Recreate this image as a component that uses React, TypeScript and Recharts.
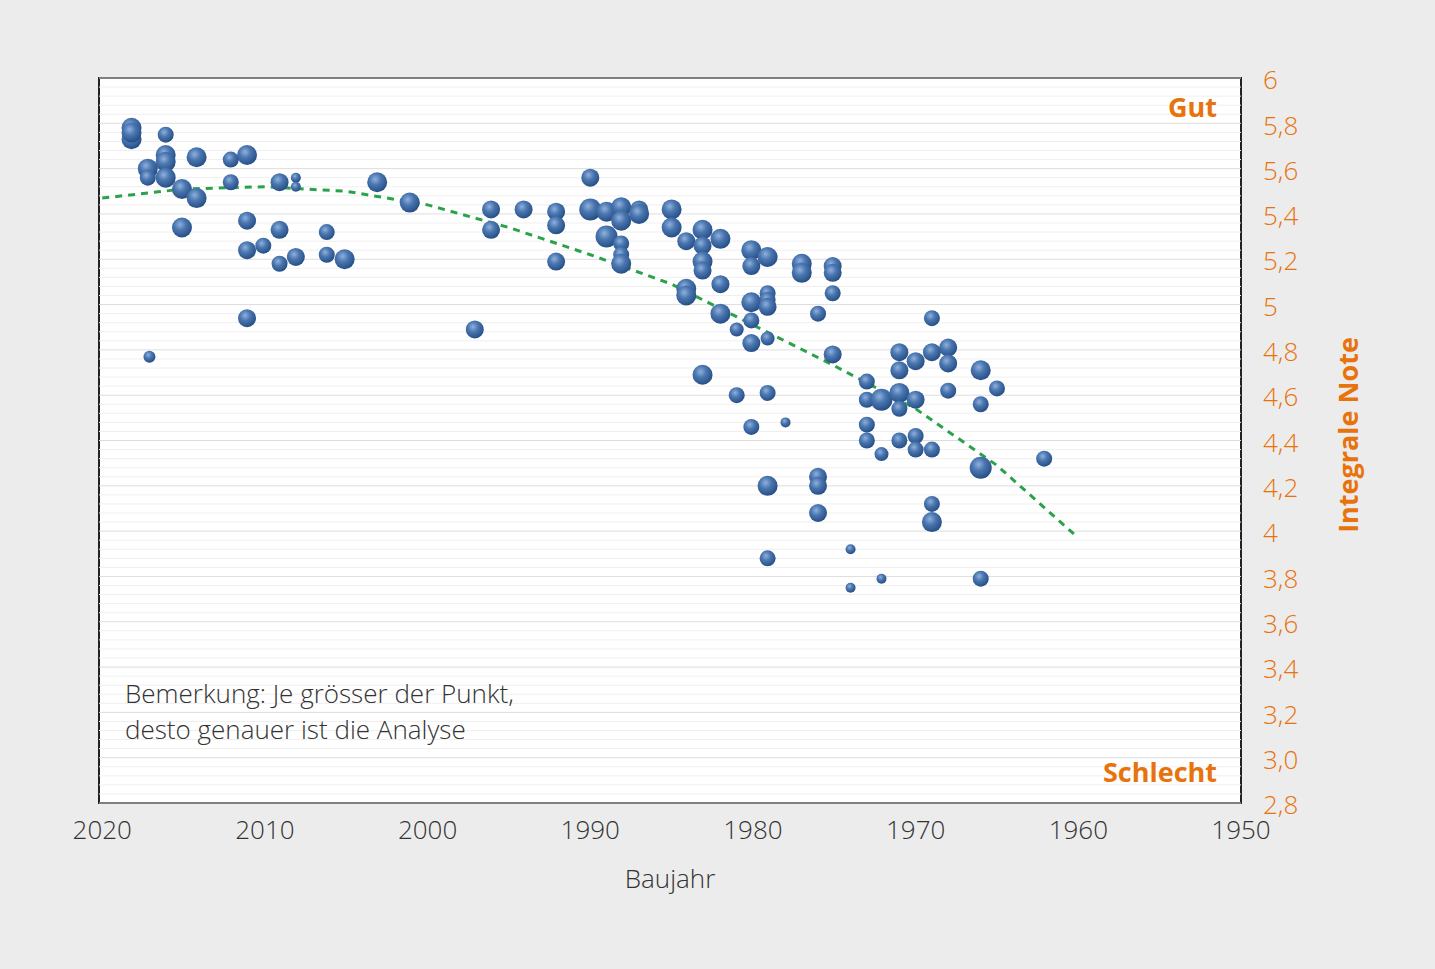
import React from "react";
import { ComposedChart, Scatter, XAxis, YAxis, ReferenceLine } from "recharts";

// building year, integral score, marker radius
const years = [
  2018.2, 2018.2, 2018.2, 2017.1, 2017.2, 2017.2, 2016.1, 2016.1, 2016.1, 2016.1, 2015.1, 2015.1,
  2014.2, 2014.2, 2012.1, 2012.1, 2011.1, 2011.1, 2011.1, 2011.1, 2010.1, 2009.1, 2009.1, 2009.1,
  2008.1, 2008.1, 2008.1, 2006.2, 2006.2, 2005.1, 2003.1, 2001.1, 1997.1, 1996.1, 1996.1, 1994.1,
  1992.1, 1992.1, 1992.1, 1990.0, 1990.0, 1989.0, 1989.0, 1988.1, 1988.1, 1988.1, 1988.1, 1988.1,
  1987.0, 1987.0, 1985.0, 1985.0, 1984.1, 1984.1, 1984.1, 1983.1, 1983.1, 1983.1, 1983.1, 1983.1,
  1982.0, 1982.0, 1982.0, 1981.0, 1981.0, 1980.1, 1980.1, 1980.1, 1980.1, 1980.1, 1980.1,
  1979.1, 1979.1, 1979.1, 1979.1, 1979.1, 1979.1, 1979.1, 1979.1, 1978.0, 1977.0, 1977.0,
  1976.0, 1976.0, 1976.0, 1976.0, 1975.1, 1975.1, 1975.1, 1975.1, 1974.0, 1974.0,
  1973.0, 1973.0, 1973.0, 1973.0, 1972.1, 1972.1, 1972.1, 1971.0, 1971.0, 1971.0, 1971.0, 1971.0,
  1970.0, 1970.0, 1970.0, 1970.0, 1969.0, 1969.0, 1969.0, 1969.0, 1969.0, 1968.0, 1968.0, 1968.0,
  1966.0, 1966.0, 1966.0, 1966.0, 1965.0, 1962.1,
];
const scores = [
  5.78, 5.73, 5.76, 4.77, 5.6, 5.56, 5.75, 5.66, 5.63, 5.56, 5.51, 5.34,
  5.65, 5.47, 5.64, 5.54, 5.66, 5.37, 5.24, 4.94, 5.26, 5.54, 5.33, 5.18,
  5.56, 5.52, 5.21, 5.32, 5.22, 5.2, 5.54, 5.45, 4.89, 5.42, 5.33, 5.42,
  5.41, 5.35, 5.19, 5.56, 5.42, 5.41, 5.3, 5.43, 5.37, 5.27, 5.22, 5.18,
  5.42, 5.4, 5.42, 5.34, 5.28, 5.07, 5.04, 5.33, 5.26, 5.19, 5.15, 4.69,
  5.29, 5.09, 4.96, 4.89, 4.6, 5.24, 5.17, 5.01, 4.93, 4.83, 4.46,
  5.21, 5.05, 5.02, 4.99, 4.85, 4.61, 4.2, 3.88, 4.48, 5.18, 5.14,
  4.96, 4.24, 4.2, 4.08, 5.17, 5.14, 5.05, 4.78, 3.92, 3.75,
  4.66, 4.58, 4.47, 4.4, 4.58, 4.34, 3.79, 4.79, 4.71, 4.61, 4.54, 4.4,
  4.75, 4.58, 4.42, 4.36, 4.94, 4.79, 4.36, 4.12, 4.04, 4.81, 4.74, 4.62,
  4.71, 4.56, 4.28, 3.79, 4.63, 4.32,
];
const radii = [
  10, 10, 10, 6, 10, 8, 8, 10, 10, 10, 10, 10,
  10, 10, 8, 8, 10, 9, 9, 9, 8, 9, 9, 8,
  5, 5, 9, 8, 8, 10, 10, 10, 9, 9, 9, 9,
  9, 9, 9, 9, 11, 10, 11, 10, 10, 8, 8, 10,
  9, 10, 10, 10, 9, 10, 10, 10, 9, 10, 9, 10,
  10, 9, 10, 7, 8, 10, 9, 10, 8, 9, 8,
  10, 8, 8, 9, 7, 8, 10, 8, 5, 10, 10,
  8, 9, 9, 9, 9, 9, 8, 9, 5, 5,
  8, 8, 8, 8, 11, 7, 5, 9, 9, 10, 8, 8,
  9, 9, 8, 8, 8, 9, 8, 8, 10, 9, 9, 8,
  10, 8, 11, 8, 8, 8,
];
const trendYears = [2020, 2015, 2010, 2005, 2000, 1995, 1990, 1985, 1980, 1975, 1970, 1965, 1960];
const trendScores = [5.47, 5.51, 5.52, 5.5, 5.44, 5.34, 5.22, 5.09, 4.91, 4.73, 4.54, 4.29, 3.97];
const xTicks = [2020, 2010, 2000, 1990, 1980, 1970, 1960, 1950];
const yTicks = [2.8, 3, 3.2, 3.4, 3.6, 3.8, 4, 4.2, 4.4, 4.6, 4.8, 5, 5.2, 5.4, 5.6, 5.8, 6];

const points = years.map((year, i) => ({ year, score: scores[i], r: radii[i] }));
const trend = trendYears.map((year, i) => ({ year, score: trendScores[i] }));
const gridLines = Array.from({ length: 81 }, (_, i) => +(2.8 + i * 0.04).toFixed(2));

const ORANGE = "#e8730c";
const FONT = "'Open Sans', sans-serif";

const fmtY = (v: number) => (v === 3 ? "3,0" : String(v).replace(".", ","));

const Ball = (props: any) => {
  const { cx, cy, payload } = props;
  if (cx == null || cy == null) return null;
  return <circle cx={cx} cy={cy} r={payload.r} fill="url(#ball)" />;
};

export default function App() {
  return (
    <div style={{ position: "absolute", left: 0, top: 0, width: 1435, height: 969, background: "#ececec", fontFamily: FONT }}>
      <ComposedChart width={1435} height={969} margin={{ top: 78, right: 94, bottom: 106, left: 99 }}>
        <defs>
          <radialGradient id="ball" cx="40%" cy="35%" r="65%">
            <stop offset="0%" stopColor="#8fb0dc" />
            <stop offset="45%" stopColor="#4a76b0" />
            <stop offset="100%" stopColor="#274f86" />
          </radialGradient>
        </defs>
        <rect x={99} y={78} width={1142} height={725} fill="#fff" />
        {gridLines.map((v) => (
          <ReferenceLine key={v} y={v} stroke={Math.abs((v * 5) % 1) < 0.01 || Math.abs((v * 5) % 1) > 0.99 ? "#dddddd" : "#efefef"} strokeWidth={1} />
        ))}
        <XAxis
          type="number"
          dataKey="year"
          domain={[1950, 2020.2]}
          reversed
          ticks={xTicks}
          tick={{ fill: "#333", fontSize: 26, fontWeight: 300, fontFamily: FONT }}
          tickLine={false}
          axisLine={false}
          tickMargin={12}
          height={60}
          allowDataOverflow
        />
        <YAxis
          type="number"
          dataKey="score"
          orientation="right"
          domain={[2.8, 6]}
          ticks={yTicks}
          tickFormatter={fmtY}
          tick={{ fill: ORANGE, fontSize: 26, fontWeight: 300, fontFamily: FONT, textAnchor: "start", dy: 2 }}
          tickLine={false}
          axisLine={false}
          tickMargin={16}
          width={100}
          allowDataOverflow
        />
        <Scatter
          data={trend}
          line={{ stroke: "#2aa24a", strokeWidth: 3, strokeDasharray: "7 6" }}
          lineType="joint"
          shape={() => null}
          isAnimationActive={false}
        />
        <Scatter data={points} shape={Ball} isAnimationActive={false} />
        <rect x={99} y={78} width={1142} height={725} fill="none" stroke="#222" strokeWidth={2} />
      </ComposedChart>
      <div style={{ position: "absolute", right: 218, top: 88, color: ORANGE, fontSize: 27, fontWeight: 700 }}>Gut</div>
      <div style={{ position: "absolute", right: 218, top: 753, color: ORANGE, fontSize: 27, fontWeight: 700 }}>Schlecht</div>
      <div style={{ position: "absolute", left: 125, top: 675, color: "#333", fontSize: 26, fontWeight: 300, lineHeight: "36px" }}>
        Bemerkung: Je grösser der Punkt,
        <br />
        desto genauer ist die Analyse
      </div>
      <div style={{ position: "absolute", left: 0, width: 1340, top: 860, textAlign: "center", color: "#333", fontSize: 26, fontWeight: 300 }}>Baujahr</div>
      <div
        style={{
          position: "absolute",
          left: 1347,
          top: 435,
          transform: "translate(-50%, -50%) rotate(-90deg)",
          whiteSpace: "nowrap",
          color: ORANGE,
          fontSize: 27,
          fontWeight: 700,
        }}
      >
        Integrale Note
      </div>
    </div>
  );
}
